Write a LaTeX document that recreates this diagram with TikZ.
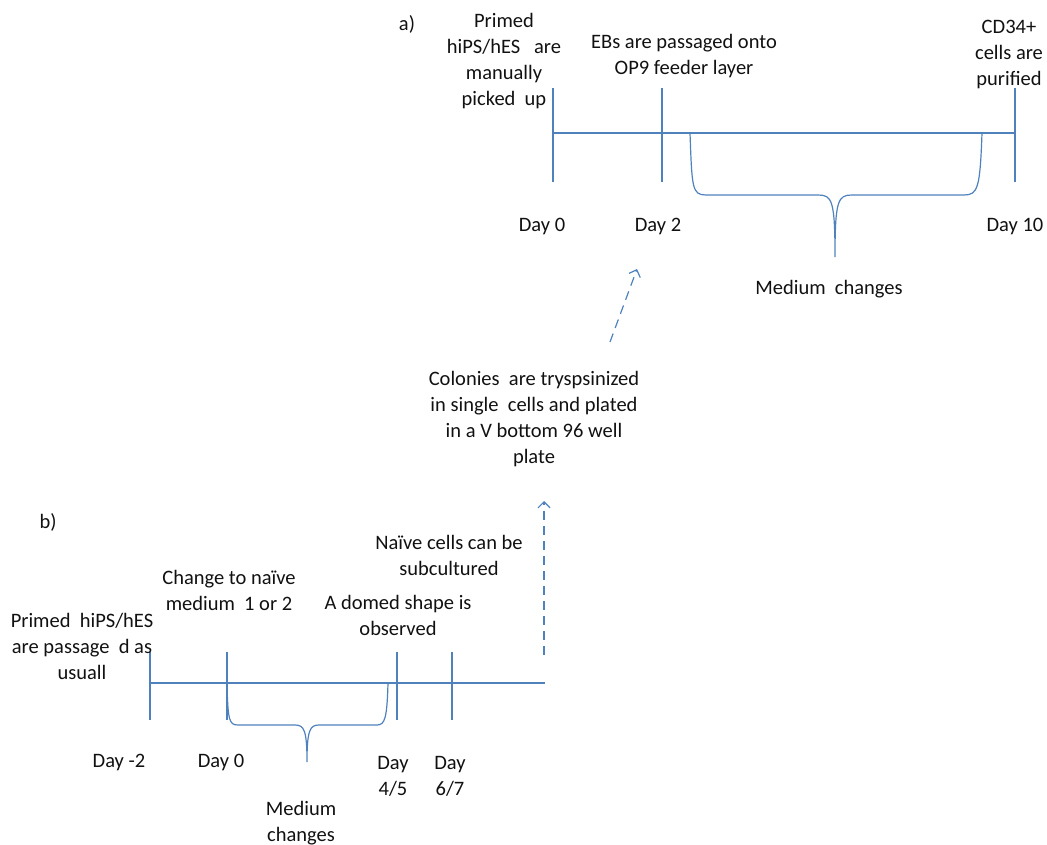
\documentclass[tikz,border=0pt]{standalone}
\usepackage{fontspec}
\setmainfont{Carlito}
\usetikzlibrary{arrows.meta}
\definecolor{lineblue}{HTML}{4F81BD}
\definecolor{txt}{HTML}{111111}
\tikzset{
  axis/.style={draw=lineblue, line width=1.3pt},
  brace/.style={draw=lineblue, line width=1.2pt},
  link/.style={draw=lineblue, line width=1.2pt, dashed, dash pattern=on 9pt off 6pt, -{Straight Barb[length=6pt,width=12pt]}},
  lbl/.style={text=txt, align=center, inner sep=0pt, font=\fontsize{20.5}{26}\selectfont},
}
\begin{document}
\begin{tikzpicture}[x=1pt,y=-1pt]
\useasboundingbox (0,0) rectangle (1047,845);

% ---------- a) timeline ----------
\coordinate (a0) at (553,133);
\coordinate (a10) at (1015,133);
\draw[axis] (a0) -- (a10);
\draw[axis] (553,88) -- (553,182);
\draw[axis] (662,88) -- (662,182);
\draw[axis] (1015,88) -- (1015,182);
\draw[brace] (690,133) .. controls (692,188) and (692,195) .. (706,195) -- (818,195)
  .. controls (832,195) and (835,200) .. (835,257)
  .. controls (835,200) and (838,195) .. (852,195) -- (964,195)
  .. controls (978,195) and (980,188) .. (982,133);

\node[lbl] (la) at (407,24) {a)};
\node[lbl] (primedA) at (504,61) {Primed\\hiPS/hES~~ are\\manually\\picked~ up};
\node[lbl] (ebs) at (684,56) {EBs are passaged onto\\OP9 feeder layer};
\node[lbl] (cd34) at (1009,55) {CD34+\\cells are\\purified};
\node[lbl] (d0a) at (542,227) {Day 0};
\node[lbl] (d2a) at (658,227) {Day 2};
\node[lbl] (d10a) at (1015,227) {Day 10};
\node[lbl] (medA) at (829,289) {Medium~ changes};

% ---------- link between the protocols ----------
\node[lbl] (colonies) at (534,419) {Colonies~ are tryspsinized\\in single~ cells and plated\\in a V bottom 96 well\\plate};
\coordinate (upA) at (637,269);
\coordinate (fromC) at (610,342);
\draw[link] (fromC) -- (upA);
\coordinate (b7) at (544,655);
\coordinate (toC) at (544,501);
\draw[link] (b7) -- (toC);

% ---------- b) timeline ----------
\coordinate (bm2) at (150,683);
\coordinate (bend) at (545,683);
\draw[axis] (bm2) -- (bend);
\draw[axis] (150,652) -- (150,720);
\draw[axis] (227,652) -- (227,720);
\draw[axis] (397,652) -- (397,720);
\draw[axis] (452,652) -- (452,720);
\draw[brace] (227,685) .. controls (228,720) and (229,725) .. (238,725) -- (295,725)
  .. controls (304,725) and (307,730) .. (307,762)
  .. controls (307,730) and (310,725) .. (319,725) -- (377,725)
  .. controls (385,725) and (387,718) .. (388,683);

\node[lbl] (lb) at (48,522) {b)};
\node[lbl] (primedB) at (82,646) {Primed~ hiPS/hES\\are passage~ d as\\usuall};
\node[lbl] (change) at (229,590) {Change to naïve\\medium~ 1 or 2};
\node[lbl] (naive) at (449,555) {Naïve cells can be\\subcultured};
\node[lbl] (domed) at (398,615) {A domed shape is\\observed};
\node[lbl] (dm2) at (119,762) {Day -2};
\node[lbl] (d0b) at (221,762) {Day 0};
\node[lbl] (d45) at (393,776) {Day\\4/5};
\node[lbl] (d67) at (450,776) {Day\\6/7};
\node[lbl] (medB) at (301,823) {Medium\\changes};
\end{tikzpicture}
\end{document}
